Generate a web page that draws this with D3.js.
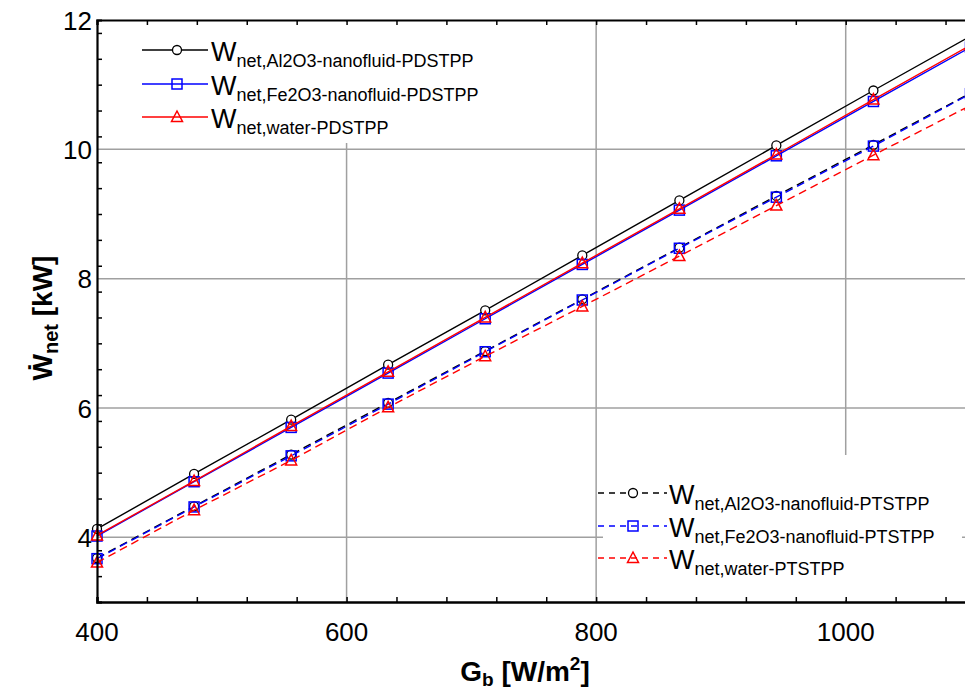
<!DOCTYPE html>
<html>
<head>
<meta charset="utf-8">
<script src="https://cdn.jsdelivr.net/npm/d3@7"></script>
<style>
  body { margin: 0; background: #fff; }
  svg { display: block; font-family: 'Liberation Sans', Arial, sans-serif; }
</style>
</head>
<body>
<div id="svgContainer"></div>
<script>
// G_b values (W/m2)
const gb = [400, 477.8, 555.6, 633.3, 711.1, 788.9, 866.7, 944.4, 1022.2, 1100]

// net power (kW), PDSTPP
const al2o3PD = [4.13, 4.98, 5.82, 6.67, 7.51, 8.36, 9.21, 10.06, 10.91, 11.75]
const fe2o3PD = [4.02, 4.86, 5.70, 6.54, 7.38, 8.22, 9.06, 9.90, 10.74, 11.58]
const waterPD = [4.03, 4.87, 5.72, 6.56, 7.40, 8.24, 9.08, 9.92, 10.77, 11.61]

// net power (kW), PTSTPP
const al2o3PT = [3.68, 4.48, 5.28, 6.08, 6.88, 7.68, 8.48, 9.28, 10.07, 10.87]
const fe2o3PT = [3.67, 4.47, 5.26, 6.06, 6.87, 7.67, 8.47, 9.26, 10.05, 10.86]
const waterPT = [3.61, 4.42, 5.19, 6.01, 6.80, 7.57, 8.35, 9.13, 9.91, 10.68]

const xTicks = [400, 600, 800, 1000]
const yTicks = [4, 6, 8, 10, 12]

const series = [
  { name: 'Al2O3-nanofluid-PDSTPP', values: al2o3PD, color: '#000', dash: null, marker: 'circle' },
  { name: 'Fe2O3-nanofluid-PDSTPP', values: fe2o3PD, color: '#0000ff', dash: null, marker: 'square' },
  { name: 'water-PDSTPP', values: waterPD, color: '#ff0000', dash: null, marker: 'triangle' },
  { name: 'Al2O3-nanofluid-PTSTPP', values: al2o3PT, color: '#000', dash: '8,5', marker: 'circle' },
  { name: 'Fe2O3-nanofluid-PTSTPP', values: fe2o3PT, color: '#0000ff', dash: '8,5', marker: 'square' },
  { name: 'water-PTSTPP', values: waterPT, color: '#ff0000', dash: '8,5', marker: 'triangle' }
]

const width = 965,
  height = 689
const margin = { top: 20, left: 97, bottom: 602, right: 970.5 }

const svg = d3.select('#svgContainer')
  .append('svg')
  .attr('width', width)
  .attr('height', height)

const xScale = d3.scaleLinear()
  .domain([400, 1100])
  .range([margin.left, margin.right])

const yScale = d3.scaleLinear()
  .domain([3, 12])
  .range([margin.bottom, margin.top])

// grid
const grid = svg.append('g').attr('stroke', '#a0a0a0').attr('stroke-width', 1.5)
grid.selectAll('.vgrid')
  .data(xTicks.slice(1))
  .enter()
  .append('line')
  .attr('x1', d => xScale(d)).attr('x2', d => xScale(d))
  .attr('y1', margin.top).attr('y2', margin.bottom)
grid.selectAll('.hgrid')
  .data(yTicks.slice(0, -1))
  .enter()
  .append('line')
  .attr('x1', margin.left).attr('x2', margin.right)
  .attr('y1', d => yScale(d)).attr('y2', d => yScale(d))

// legend backgrounds hide the grid
svg.append('rect').attr('x', 99).attr('y', 22).attr('width', 460).attr('height', 121).attr('fill', '#fff')
svg.append('rect').attr('x', 603).attr('y', 455).attr('width', 359).attr('height', 145).attr('fill', '#fff')

const symbol = (sel, type, x, y, color) => {
  if (type === 'circle') {
    sel.append('circle').attr('cx', x).attr('cy', y).attr('r', 4.5)
      .attr('fill', '#fff').attr('stroke', color).attr('stroke-width', 1.3)
  } else if (type === 'square') {
    sel.append('rect').attr('x', x - 5).attr('y', y - 5).attr('width', 10).attr('height', 10)
      .attr('fill', 'none').attr('stroke', color).attr('stroke-width', 1.5)
  } else {
    sel.append('path').attr('d', `M${x},${y - 6}L${x + 5.5},${y + 4.5}L${x - 5.5},${y + 4.5}Z`)
      .attr('fill', 'none').attr('stroke', color).attr('stroke-width', 1.5)
  }
}

const line = d3.line()
  .x((d, i) => xScale(gb[i]))
  .y(d => yScale(d))

const plot = svg.append('g')
series.forEach(s => {
  plot.append('path')
    .attr('d', line(s.values))
    .attr('fill', 'none')
    .attr('stroke', s.color)
    .attr('stroke-width', 1.4)
    .attr('stroke-dasharray', s.dash)
  const g = plot.append('g')
  s.values.forEach((v, i) => symbol(g, s.marker, xScale(gb[i]), yScale(v), s.color))
})

// axes
const minorX = d3.range(400, 1101, 40)
const minorY = d3.range(3, 12.01, 0.4).map(d => +d.toFixed(1))

svg.append('g')
  .attr('transform', 'translate(0,' + margin.bottom + ')')
  .call(d3.axisBottom(xScale).tickValues(minorX).tickSize(-5).tickFormat(''))
  .call(g => g.select('.domain').attr('stroke-width', 2.5))
  .call(g => g.selectAll('.tick line').attr('stroke-width', 1.5))

svg.append('g')
  .attr('transform', 'translate(0,' + margin.top + ')')
  .call(d3.axisTop(xScale).tickValues(minorX).tickSize(-5).tickFormat(''))
  .call(g => g.select('.domain').attr('stroke-width', 2.2))
  .call(g => g.selectAll('.tick line').attr('stroke-width', 1.5))

svg.append('g')
  .attr('transform', 'translate(' + margin.left + ',0)')
  .call(d3.axisLeft(yScale).tickValues(minorY).tickSize(-5).tickFormat(''))
  .call(g => g.select('.domain').attr('stroke-width', 2.2))
  .call(g => g.selectAll('.tick line').attr('stroke-width', 1.5))

svg.append('g')
  .selectAll('text')
  .data(xTicks)
  .enter()
  .append('text')
  .attr('x', d => xScale(d))
  .attr('y', 641)
  .attr('text-anchor', 'middle')
  .attr('font-size', '26px')
  .text(d => d)

svg.append('g')
  .selectAll('text')
  .data(yTicks)
  .enter()
  .append('text')
  .attr('x', 92)
  .attr('y', d => yScale(d) + 9.5)
  .attr('text-anchor', 'end')
  .attr('font-size', '26px')
  .text(d => d)

// axis titles
const xLabel = svg.append('text')
  .attr('x', 525)
  .attr('y', 681)
  .attr('text-anchor', 'middle')
  .attr('font-size', '28px')
  .attr('font-weight', 'bold')
xLabel.append('tspan').text('G')
xLabel.append('tspan').attr('font-size', '19px').attr('dy', 5).text('b')
xLabel.append('tspan').attr('dy', -5).text(' [W/m')
xLabel.append('tspan').attr('font-size', '19px').attr('dy', -11).text('2')
xLabel.append('tspan').attr('dy', 11).text(']')

const yLabel = svg.append('text')
  .attr('transform', 'translate(52,318) rotate(-90)')
  .attr('text-anchor', 'middle')
  .attr('font-size', '28px')
  .attr('font-weight', 'bold')
yLabel.append('tspan').text('\u1E86')
yLabel.append('tspan').attr('font-size', '20px').attr('dy', 6).text('net')
yLabel.append('tspan').attr('dy', -6).text(' [kW]')

// legends
const legendRows = (items, x0, x1, xm, xt, ys) => {
  const lg = svg.append('g').attr('class', 'legend')
  items.forEach((s, i) => {
    const y = ys[i]
    lg.append('line')
      .attr('x1', x0).attr('x2', x1).attr('y1', y).attr('y2', y)
      .attr('stroke', s.color).attr('stroke-width', 1.4)
      .attr('stroke-dasharray', s.dash ? '6,5' : null)
    symbol(lg, s.marker, xm, y, s.color)
    const t = lg.append('text').attr('x', xt).attr('y', y + 11).attr('font-size', '27px')
    t.append('tspan').text('W')
    t.append('tspan').attr('font-size', '18px').attr('dy', 6).text('net,' + s.name)
  })
}
legendRows(series.slice(0, 3), 142, 208, 177, 211, [50, 84, 117])
legendRows(series.slice(3), 598, 667, 633, 669, [493, 526, 558])
</script>
</body>
</html>
